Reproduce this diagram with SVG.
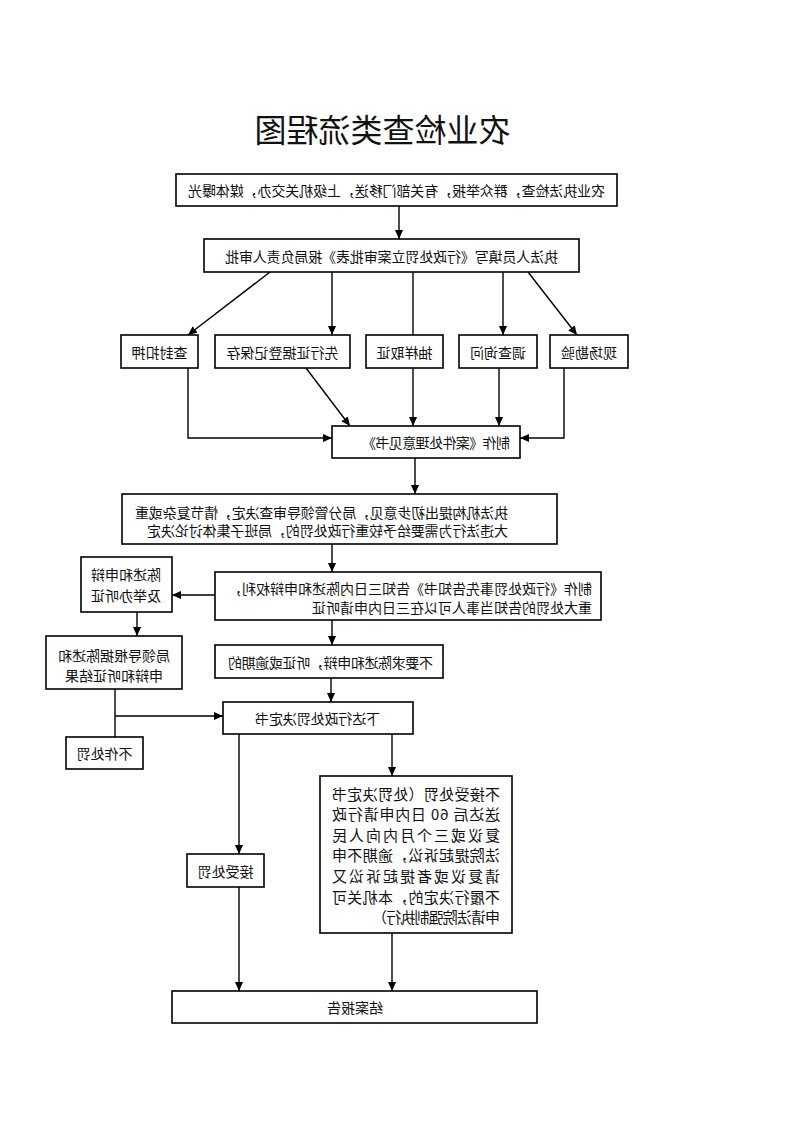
<svg xmlns="http://www.w3.org/2000/svg" width="793" height="1122" viewBox="0 0 793 1122">
<defs>
<style>
.box{fill:#fff;stroke:#000;stroke-width:1.6}
.ln{fill:none;stroke:#000;stroke-width:1.4}
.arr{marker-end:url(#ah)}
text{font-family:"Noto Sans CJK SC","Noto Sans",sans-serif;font-size:14px;fill:#111;dominant-baseline:central}
.c{text-anchor:middle}
.big{font-size:15px}
.title{font-size:32px}
</style>
<marker id="ah" viewBox="0 0 10 10" refX="10" refY="5" markerWidth="9" markerHeight="9" markerUnits="userSpaceOnUse" orient="auto">
<path d="M0,0.5 L10,5 L0,9.5 Z" fill="#000"/>
</marker>
</defs>
<rect width="793" height="1122" fill="#fff"/>
<g transform="matrix(-1 0 0 1 793 0)">
<g id="title"><text class="title c" x="410.5" y="128">农业检查类流程图</text></g>
<g id="connectors">
<path class="ln arr" d="M394,206 V239"/>
<path class="ln arr" d="M523,272 L605,335"/>
<path class="ln arr" d="M461,272 V335"/>
<path class="ln" d="M380,272 V335"/>
<path class="ln arr" d="M290,272 V335"/>
<path class="ln arr" d="M265,272 L216,335"/>
<path class="ln arr" d="M605,368 V438 H461"/>
<path class="ln arr" d="M487,368 L443,426"/>
<path class="ln arr" d="M380,368 V426"/>
<path class="ln arr" d="M294,368 V426"/>
<path class="ln arr" d="M229,368 V438 H273"/>
<path class="ln arr" d="M378,458 V494"/>
<path class="ln arr" d="M461,544 V572"/>
<path class="ln arr" d="M578,595 H621"/>
<path class="ln arr" d="M656,612 V636"/>
<path class="ln arr" d="M461,620 V645"/>
<path class="ln arr" d="M462,678 V702"/>
<path class="ln" d="M678,689 V737"/>
<path class="ln arr" d="M678,716 H570"/>
<path class="ln arr" d="M554,734 V854"/>
<path class="ln arr" d="M401,734 V776"/>
<path class="ln arr" d="M554,887 V991"/>
<path class="ln arr" d="M401,933 V991"/>
</g>
<g id="n1"><rect class="box" x="176" y="174" width="441" height="32"/><text class="c" x="396.5" y="190" textLength="417" lengthAdjust="spacing">农业执法检查，群众举报，有关部门移送，上级机关交办，媒体曝光</text></g>
<g id="n2"><rect class="box" x="214" y="239" width="375" height="33"/><text class="c" x="401.5" y="255.5" textLength="333" lengthAdjust="spacing">执法人员填写《行政处罚立案审批表》报局负责人审批</text></g>
<g id="n3"><rect class="box" x="595" y="335" width="77" height="33"/><text class="c" x="633.5" y="351.5">查封扣押</text></g>
<g id="n4"><rect class="box" x="443" y="335" width="135" height="33"/><text class="c" x="510.5" y="351.5">先行证据登记保存</text></g>
<g id="n5"><rect class="box" x="350" y="335" width="77" height="33"/><text class="c" x="388.5" y="351.5">抽样取证</text></g>
<g id="n6"><rect class="box" x="256" y="335" width="78" height="33"/><text class="c" x="295" y="351.5">调查询问</text></g>
<g id="n7"><rect class="box" x="165" y="335" width="78" height="33"/><text class="c" x="204" y="351.5">现场勘验</text></g>
<g id="n8"><rect class="box" x="273" y="426" width="188" height="32"/><text x="283" y="442" textLength="148" lengthAdjust="spacing">制作《案件处理意见书》</text></g>
<g id="n9"><rect class="box" x="236" y="494" width="435" height="50"/><text x="285" y="512" textLength="373" lengthAdjust="spacing">执法机构提出初步意见，局分管领导审查决定，情节复杂或重</text><text x="285" y="530" textLength="361" lengthAdjust="spacing">大违法行为需要给予较重行政处罚的，局班子集体讨论决定</text></g>
<g id="n10"><rect class="box" x="192" y="572" width="386" height="48"/><text x="201" y="588" textLength="364" lengthAdjust="spacing">制作《行政处罚事先告知书》告知三日内陈述和申辩权利，</text><text x="201" y="607">重大处罚的告知当事人可以在三日内申请听证</text></g>
<g id="n11"><rect class="box" x="621" y="557" width="91" height="55"/><text class="c" x="667" y="574">陈述和申辩</text><text class="c" x="667" y="595">及举办听证</text></g>
<g id="n12"><rect class="box" x="611" y="636" width="136" height="53"/><text class="c" x="679" y="655">局领导根据陈述和</text><text class="c" x="679" y="675">申辩和听证结果</text></g>
<g id="n13"><rect class="box" x="350" y="645" width="228" height="33"/><text x="360" y="661.5" textLength="205" lengthAdjust="spacing">不要求陈述和申辩，听证或逾期的</text></g>
<g id="n14"><rect class="box" x="380" y="702" width="190" height="32"/><text x="413" y="718" textLength="125" lengthAdjust="spacing">下达行政处罚决定书</text></g>
<g id="n15"><rect class="box" x="650" y="737" width="77" height="32"/><text class="c" x="688.5" y="753">不作处罚</text></g>
<g id="n16"><rect class="box" x="529" y="854" width="77" height="33"/><text class="c" x="567.5" y="870.5">接受处罚</text></g>
<g id="n17"><rect class="box" x="281" y="776" width="192" height="157"/>
<text class="big" x="293" y="793" textLength="168" lengthAdjust="spacing">不接受处罚（处罚决定书</text>
<text class="big" x="293" y="813.6" textLength="168" lengthAdjust="spacing">送达后 60 日内申请行政</text>
<text class="big" x="293" y="834.2" textLength="168" lengthAdjust="spacing">复议或三个月内向人民</text>
<text class="big" x="293" y="854.8" textLength="168" lengthAdjust="spacing">法院提起诉讼，逾期不申</text>
<text class="big" x="293" y="875.4" textLength="168" lengthAdjust="spacing">请复议或者提起诉讼又</text>
<text class="big" x="293" y="896" textLength="168" lengthAdjust="spacing">不履行决定的，本机关可</text>
<text class="big" x="293" y="916.6" textLength="128" lengthAdjust="spacing">申请法院强制执行）</text>
</g>
<g id="n18"><rect class="box" x="256" y="991" width="365" height="32"/><text class="c" x="438" y="1007">结案报告</text></g>
</g>
</svg>
